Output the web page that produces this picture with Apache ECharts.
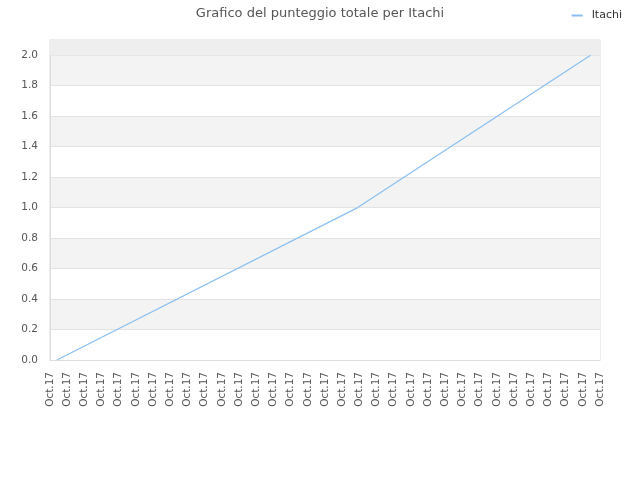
<!DOCTYPE html>
<html>
<head>
<meta charset="utf-8">
<script src="https://cdn.jsdelivr.net/npm/echarts@6/dist/echarts.min.js"></script>
<style>
  html, body { margin: 0; padding: 0; background: #fff; }
  #chart { width: 640px; height: 480px; }
</style>
</head>
<body>
<div id="chart"></div>
<script>
// 33 tick labels along the bottom (all the same month)
const xLabels = Array(33).fill('Oct.17');
// score events: position along the time axis (in tick steps) and total score
const pointX = [0.4, 17.9, 31.45];
const scores = [0, 1, 2];
const seriesName = 'Itachi';

const myChart = echarts.init(document.getElementById('chart'));

const option = {
  animation: false,
  backgroundColor: '#fff',
  textStyle: { fontFamily: 'DejaVu Sans' },
  title: {
    text: 'Grafico del punteggio totale per Itachi',
    left: 'center',
    top: 2,
    textStyle: { fontSize: 13, fontWeight: 'normal', color: '#555', fontFamily: 'DejaVu Sans' }
  },
  legend: {
    data: [seriesName],
    right: 13,
    top: 5,
    icon: 'rect',
    itemWidth: 11,
    itemHeight: 2,
    itemGap: 6,
    textStyle: { fontSize: 11, color: '#333', fontFamily: 'DejaVu Sans', padding: [0, 0, 0, 4] }
  },
  grid: {
    left: 50,
    right: 40,
    top: 40,
    bottom: 120,
    show: true,
    borderColor: '#dddddd',
    borderWidth: 1,
    backgroundColor: 'transparent'
  },
  xAxis: {
    type: 'value',
    min: 0,
    max: xLabels.length - 1,
    interval: 1,
    axisLine: { show: true, lineStyle: { color: '#dddddd' } },
    axisTick: { show: false },
    splitLine: { show: false },
    axisLabel: {
      rotate: 90,
      margin: 12,
      fontSize: 10.5,
      color: '#555',
      fontFamily: 'DejaVu Sans',
      showMinLabel: true,
      showMaxLabel: true,
      formatter: v => xLabels[Math.round(v)]
    }
  },
  yAxis: {
    type: 'value',
    min: 0,
    max: 2.1,
    interval: 0.2,
    axisLine: { show: true, lineStyle: { color: '#dddddd' } },
    axisTick: { show: false },
    axisLabel: {
      margin: 12,
      fontSize: 10.5,
      color: '#555',
      fontFamily: 'DejaVu Sans',
      showMaxLabel: false,
      formatter: v => v.toFixed(1)
    },
    splitLine: { show: true, lineStyle: { color: '#e3e3e3' } },
    splitArea: { show: true, areaStyle: { color: ['#ffffff', '#f3f3f3'] } }
  },
  series: [
    {
      name: seriesName,
      type: 'line',
      data: pointX.map((x, i) => [x, scores[i]]),
      showSymbol: false,
      symbol: 'none',
      color: '#8abff2',
      lineStyle: { width: 1.2, color: '#8abff2' },
      markArea: {
        silent: true,
        itemStyle: { color: '#eeeeee' },
        data: [[{ yAxis: 2.0 }, { yAxis: 2.1 }]]
      }
    }
  ]
};

myChart.setOption(option);
</script>
</body>
</html>
